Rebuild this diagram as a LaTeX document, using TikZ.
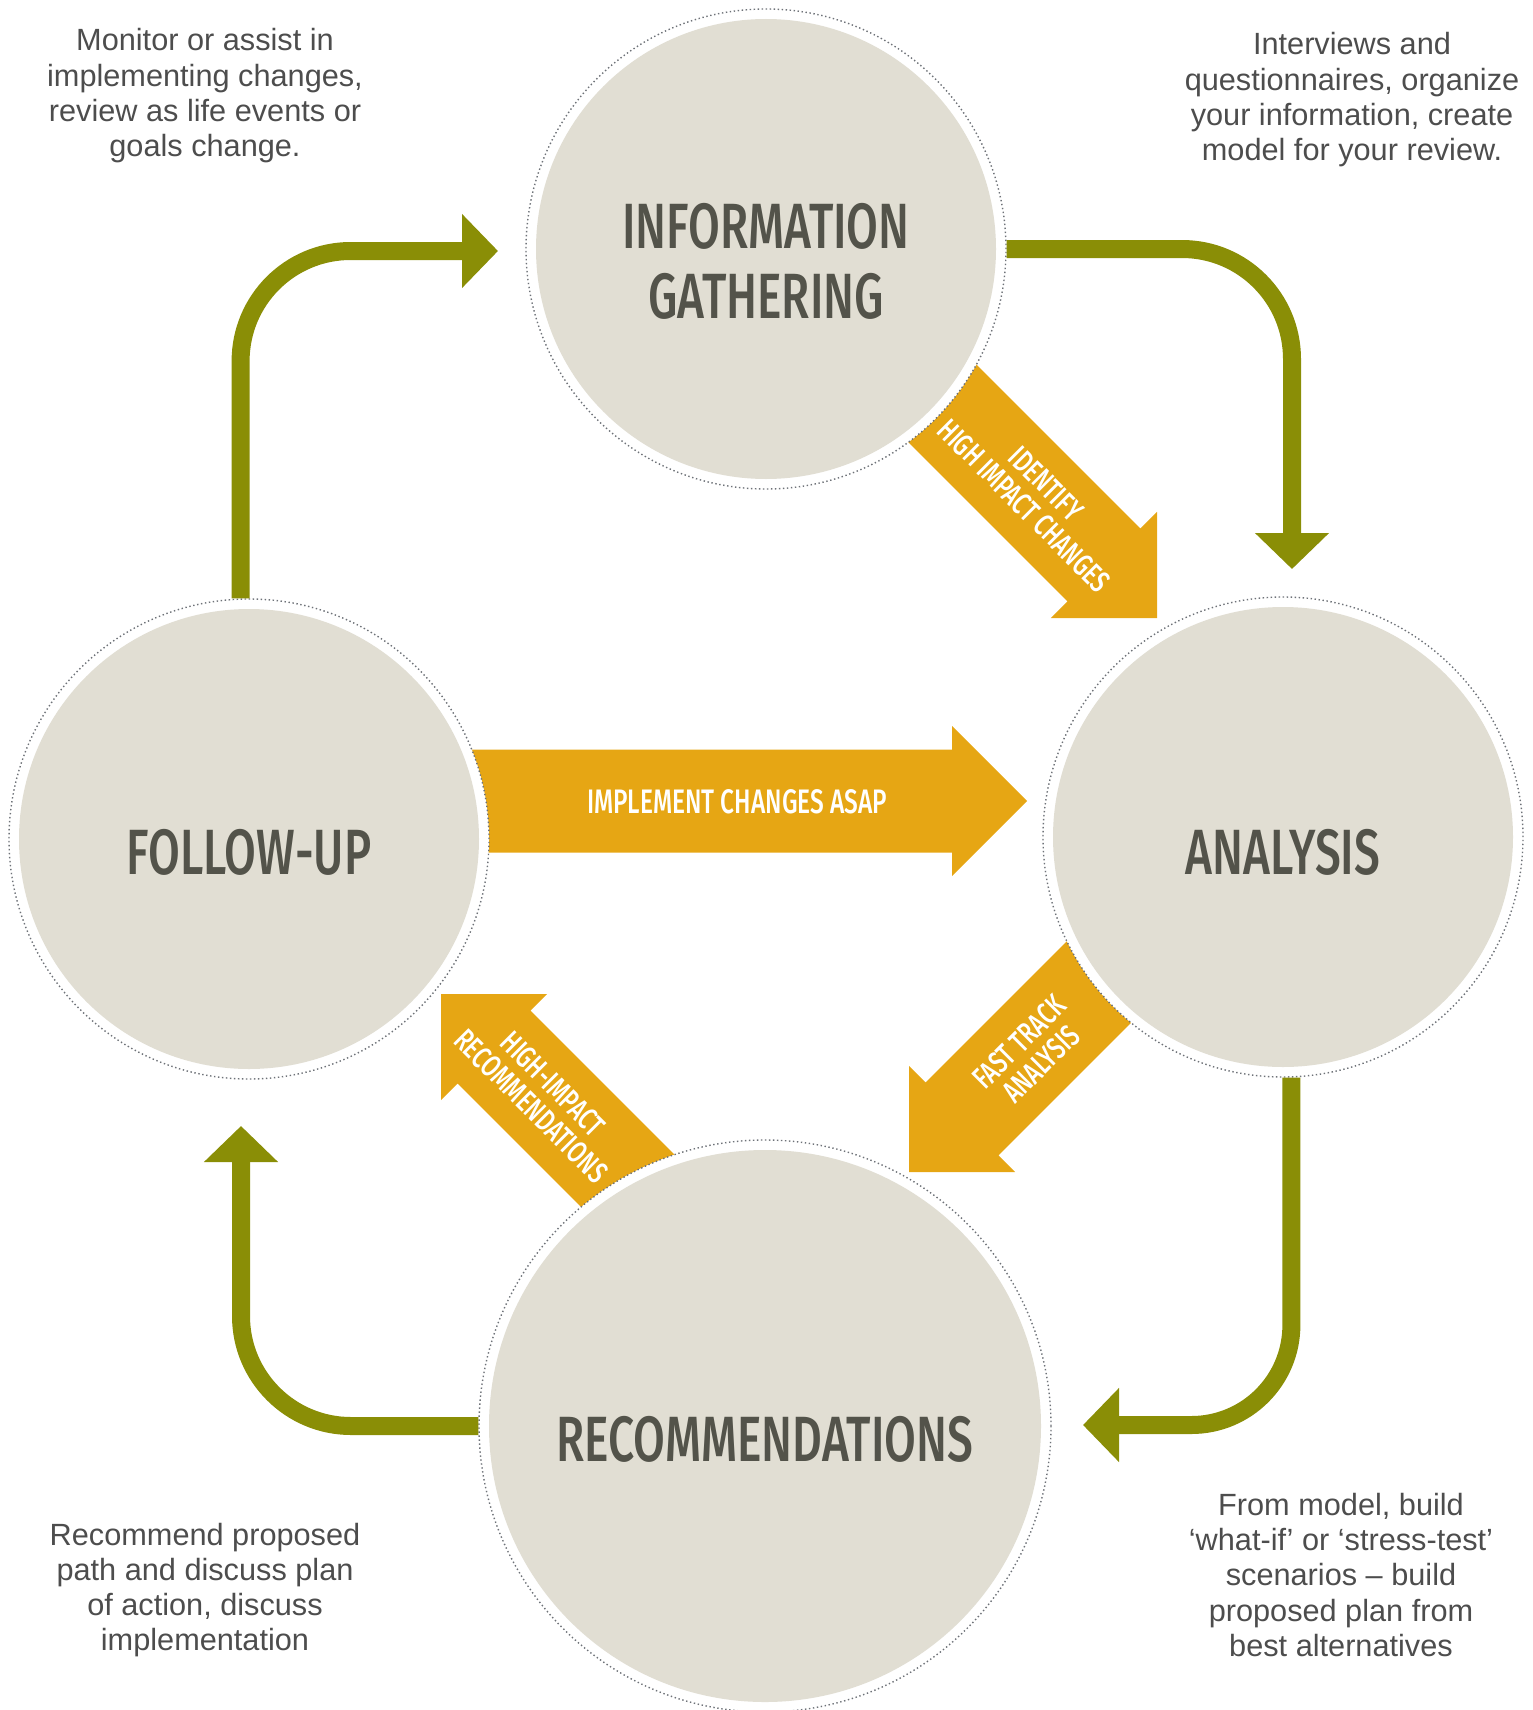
\documentclass[tikz,border=0pt]{standalone}
\usepackage{fontspec}
\setmainfont{Liberation Sans}
\newfontfamily\dinfont{Fira Sans Medium}[FakeStretch=0.72]
\usetikzlibrary{arrows.meta}
\usetikzlibrary{calc}
\usetikzlibrary{positioning}

\definecolor{oliv}{RGB}{138,142,6}
\definecolor{ochre}{RGB}{230,166,20}
\definecolor{beige}{RGB}{225,222,211}
\definecolor{ink}{RGB}{83,83,74}
\definecolor{notegray}{RGB}{77,77,77}
\definecolor{dotgray}{RGB}{110,114,120}

\newcommand{\blockarrow}[3]{\fill[ochre,shift={(#1)},rotate=#2] (0,0) -- (-75,75) -- (-75,51.5) -- (-#3,51.5) -- (-#3,-51.5) -- (-75,-51.5) -- (-75,-75) -- cycle;}

\begin{document}
\begin{tikzpicture}[
		x=1pt, y=-1pt,
		ring/.style = {circle,draw=dotgray,line width=1.4pt,dash pattern=on 1.4pt off 2.6pt,fill=white,minimum size=480pt,inner sep=0pt},
		disk/.style = {circle,fill=beige,minimum size=460pt,inner sep=0pt},
		title/.style = {font=\dinfont\fontsize{64}{70}\selectfont,text=ink,align=center},
		lbl/.style = {font=\dinfont\fontsize{31}{31}\selectfont,text=white,align=center},
		note/.style = {font=\fontsize{30.7}{35.3}\selectfont,text=notegray,align=center},
		flow/.style = {draw=oliv,line width=18pt,rounded corners=110pt,-{Triangle[length=36pt,width=72pt]}}
		]

	\useasboundingbox (0,0) rectangle (1533,1710);

	\coordinate (a1) at (1157,618);
	\coordinate (a2) at (909,1172);
	\coordinate (a3) at (441,994);
	\coordinate (a4) at (1027,801);

	\blockarrow{a1}{-45}{480}
	\blockarrow{a2}{-135}{470}
	\blockarrow{a3}{135}{500}
	\blockarrow{a4}{0}{600}

	\node[ring] (info) at (766,249) {};
	\node[ring] (ana) at (1283,837) {};
	\node[ring] (fol) at (249,839) {};
	\node[ring,minimum size=572pt] (rec) at (765,1426) {};

	\node[disk] (infoD) at (info) {};
	\node[disk] (anaD) at (ana) {};
	\node[disk] (folD) at (fol) {};
	\node[disk,minimum size=552pt] (recD) at (rec) {};

	\node[title] (infoT) at ([yshift=-12pt]info.center) {INFORMATION\\GATHERING};
	\node[title] (anaT) at ([yshift=-15pt]ana.center) {ANALYSIS};
	\node[title] (folT) at ([yshift=-13pt]fol.center) {FOLLOW-UP};
	\node[title] (recT) at ([yshift=-13pt]rec.center) {RECOMMENDATIONS};

	\coordinate (t1) at (498,251);
	\coordinate (t2) at (1292,569);
	\coordinate (t3) at (1083,1425);
	\coordinate (t4) at (241,1126);

	\draw[flow] (fol.92) |- (t1);
	\draw[flow] (info.east) -| (t2);
	\draw[flow,rounded corners=100pt] (ana.-88) |- (t3);
	\draw[flow] (rec.west) -| (t4);

	\node[lbl,rotate=-45] (idL) at (1035,495) {IDENTIFY\\HIGH IMPACT CHANGES};
	\node[lbl,rotate=45] (ftL) at (1030,1053) {FAST TRACK\\ANALYSIS};
	\node[lbl,rotate=-45] (hiL) at (542,1095) {HIGH-IMPACT\\RECOMMENDATIONS};
	\node[lbl,font=\dinfont\fontsize{34}{34}\selectfont] (imL) at (737,802) {IMPLEMENT CHANGES ASAP};

	\node[note] (n1) at (205,96) {Monitor or assist in\\implementing changes,\\review as life events or\\goals change.};
	\node[note] (n2) at (1352,100) {Interviews and\\questionnaires, organize\\your information, create\\model for your review.};
	\node[note] (n3) at (205,1590) {Recommend proposed\\path and discuss plan\\of action, discuss\\implementation};
	\node[note] (n4) at (1341,1575) {From model, build\\‘what-if’ or ‘stress-test’\\scenarios – build\\proposed plan from\\best alternatives};
\end{tikzpicture}
\end{document}
